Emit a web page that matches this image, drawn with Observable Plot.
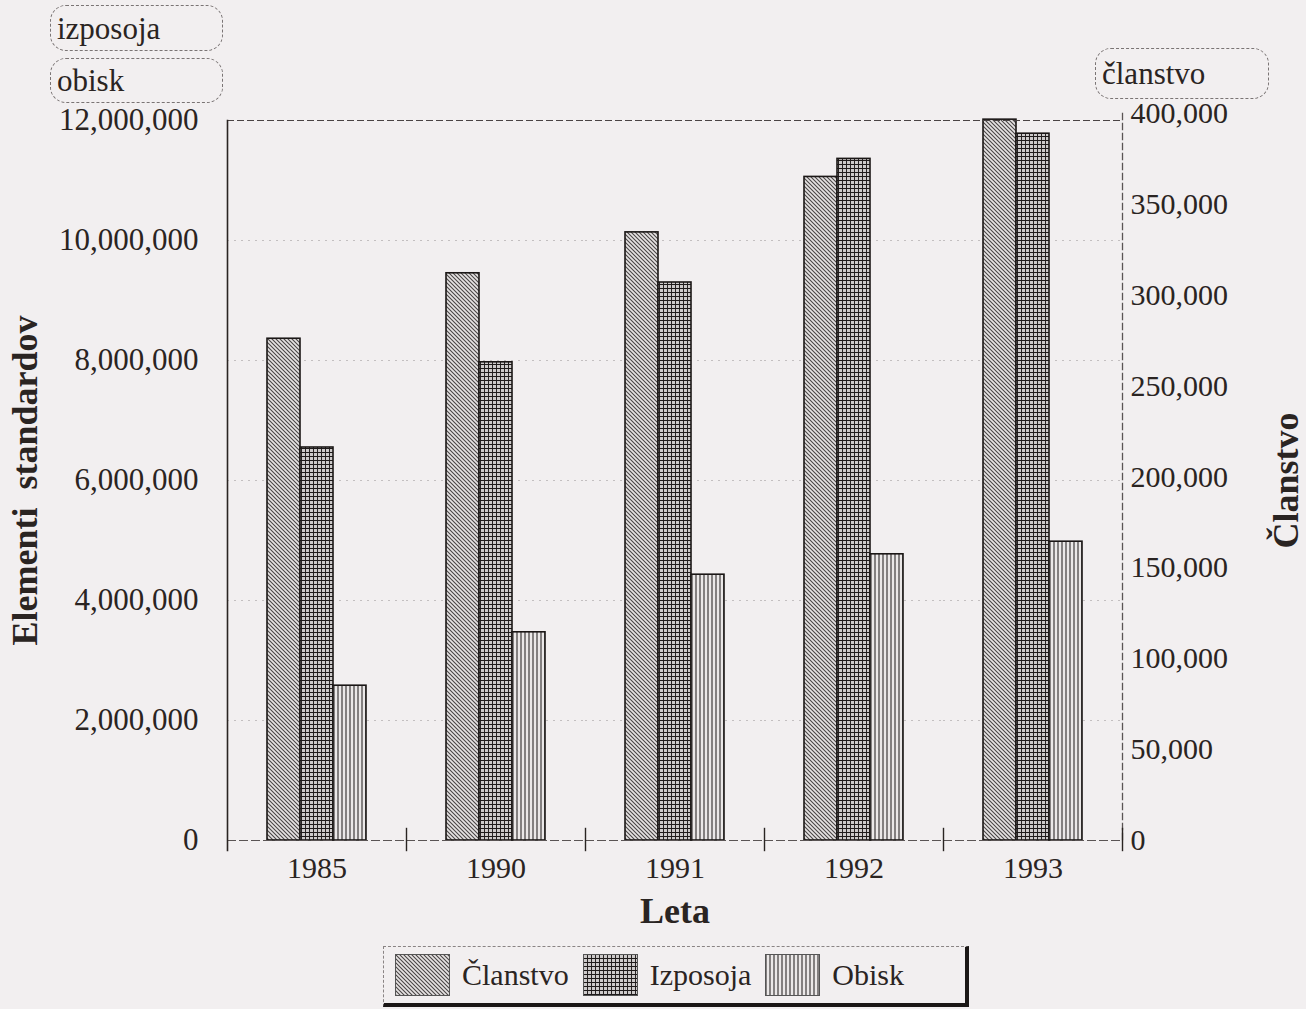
<!DOCTYPE html>
<html><head><meta charset="utf-8">
<script src="https://cdn.jsdelivr.net/npm/d3@7"></script>
<script src="https://cdn.jsdelivr.net/npm/@observablehq/plot@0.6"></script>
<style>
html,body{margin:0;padding:0;background:#f2eff0;}
#wrap{position:relative;width:1306px;height:1009px;overflow:hidden;font-family:"Liberation Serif",serif;color:#2a2422;}
#wrap > svg.plot{position:absolute;left:0;top:0;}
.tag{position:absolute;border:1.5px dashed #7a7474;border-radius:16px;font-size:31px;line-height:1;box-sizing:border-box;padding-left:6px;display:flex;align-items:center;}
#legend{position:absolute;left:383px;top:946px;width:586px;height:61px;box-sizing:border-box;border-top:1px dashed #8a8484;border-left:1px dashed #8a8484;border-right:4px solid #1b1716;border-bottom:4px solid #1b1716;display:flex;align-items:center;padding-left:11px;font-size:30px;}
#legend .sw{width:55px;height:42px;display:block;}
#legend span{margin-left:12px;margin-right:14px;}
</style></head>
<body>
<div id="wrap">
<svg width="0" height="0" style="position:absolute">
  <defs>
    <pattern id="patC" patternUnits="userSpaceOnUse" width="4" height="4">
      <rect width="4" height="4" fill="#e6e3e3"/>
      <path d="M-1,-1 L5,5 M3,-1 L5,1 M-1,3 L1,5" stroke="#4a4646" stroke-width="1.1"/>
    </pattern>
    <pattern id="patI" patternUnits="userSpaceOnUse" width="4" height="4">
      <rect width="4" height="4" fill="#cdcaca"/>
      <path d="M0,0 L4,0 M0,0 L0,4" stroke="#1e1a1a" stroke-width="1.9"/>
    </pattern>
    <pattern id="patO" patternUnits="userSpaceOnUse" width="4" height="4">
      <rect width="4" height="4" fill="#ebe8e8"/>
      <path d="M1,0 L1,4" stroke="#2e2a2a" stroke-width="1.1"/>
    </pattern>
  </defs>
</svg>
<div class="tag" style="left:50px;top:5px;width:173px;height:46px;">izposoja</div>
<div class="tag" style="left:50px;top:58px;width:173px;height:45px;">obisk</div>
<div class="tag" style="left:1095px;top:48px;width:174px;height:51px;">članstvo</div>
<div id="legend"></div>
</div>
<script>
const years = ["1985", "1990", "1991", "1992", "1993"];
const seriesNames = ["Članstvo", "Izposoja", "Obisk"];
const seriesPatterns = ["patC", "patI", "patO"];
// Članstvo is read on the right axis, Izposoja and Obisk on the left axis
const clanstvo = [276000, 312000, 334500, 365000, 396500];
const izposoja = [6550000, 7970000, 9300000, 11360000, 11780000];
const obisk = [2580000, 3470000, 4430000, 4770000, 4980000];
const leftTicks = [0, 2000000, 4000000, 6000000, 8000000, 10000000, 12000000];
const rightTicks = [0, 50000, 100000, 150000, 200000, 250000, 300000, 350000, 400000];
const leftMax = 12000000;
const rightMax = 400000;
const rightTopInLeft = 12120000; // the right axis top (400,000) sits slightly above 12,000,000
const k = rightTopInLeft / rightMax;

const seriesValues = {"Članstvo": clanstvo.map(v => v * k), "Izposoja": izposoja, "Obisk": obisk};
const rows = years.flatMap((year, i) => seriesNames.map(s => ({year, series: s, value: seriesValues[s][i]})));

const fmt = d3.format(",");
const ink = "#2a2422";

const chart = Plot.plot({
  width: 1306,
  height: 1009,
  marginLeft: 226,
  marginRight: 184,
  marginTop: 120,
  marginBottom: 169,
  style: {fontFamily: "Liberation Serif", fontSize: "30px", color: ink, background: "transparent", overflow: "visible"},
  fx: {domain: years, padding: 0, label: null},
  x: {domain: seriesNames, paddingInner: 0, paddingOuter: 1.2, axis: null},
  y: {domain: [0, leftMax]},
  marks: [
    Plot.ruleY(leftTicks.filter(v => v > 0 && v < leftMax), {stroke: "#8a8484", strokeDasharray: "2,5", strokeOpacity: 0.45}),
    ...seriesNames.map((s, j) => Plot.barY(rows.filter(d => d.series === s), {
      fx: "year", x: "series", y: "value",
      fill: `url(#${seriesPatterns[j]})`, stroke: "#1b1716", strokeWidth: 1.6
    })),
    Plot.ruleY([leftMax], {stroke: "#4a4444", strokeWidth: 1.2, strokeDasharray: "7,3"}),
    Plot.ruleY([0], {stroke: "#5a5454", strokeWidth: 1.2, strokeDasharray: "9,3"}),
    Plot.frame({anchor: "left", facetAnchor: "left", stroke: ink, strokeWidth: 1.6, insetBottom: -10}),
    Plot.frame({anchor: "right", facetAnchor: "right", stroke: "#5a5454", strokeWidth: 1.3, strokeDasharray: "6,4", insetTop: -7}),
    Plot.frame({anchor: "right", stroke: ink, strokeWidth: 1.4, insetTop: 708, insetBottom: -10}),
    Plot.axisY(leftTicks, {anchor: "left", tickFormat: fmt, tickSize: 0, tickPadding: 29, fontSize: 31, label: null}),
    Plot.axisY(rightTicks.map(v => v * k), {anchor: "right", tickFormat: v => fmt(Math.round(v / k)), tickSize: 0, tickPadding: 8, fontSize: 30, label: null}),
    Plot.axisFx({anchor: "bottom", tickSize: 0, tickPadding: 16, fontSize: 30, label: null}),
    Plot.axisY([], {anchor: "left", label: "Elementi\u2002standardov", labelAnchor: "center", labelArrow: "none", labelOffset: 216, fontSize: 36, fontWeight: "bold"}),
    Plot.axisY([], {anchor: "right", label: "Članstvo", labelAnchor: "center", labelArrow: "none", labelOffset: 175, fontSize: 36, fontWeight: "bold"}),
    Plot.axisFx([], {anchor: "bottom", label: "Leta", labelAnchor: "center", labelArrow: "none", labelOffset: 82, fontSize: 36, fontWeight: "bold"})
  ]
});
chart.classList.add("plot");
document.getElementById("wrap").appendChild(chart);

const legend = document.getElementById("legend");
seriesNames.forEach((s, j) => {
  legend.insertAdjacentHTML("beforeend",
    `<svg class="sw" width="55" height="42"><rect x="0.5" y="0.5" width="54" height="41" fill="url(#${seriesPatterns[j]})" stroke="#555" stroke-width="1"/></svg><span>${s}</span>`);
});
</script>
</body></html>
